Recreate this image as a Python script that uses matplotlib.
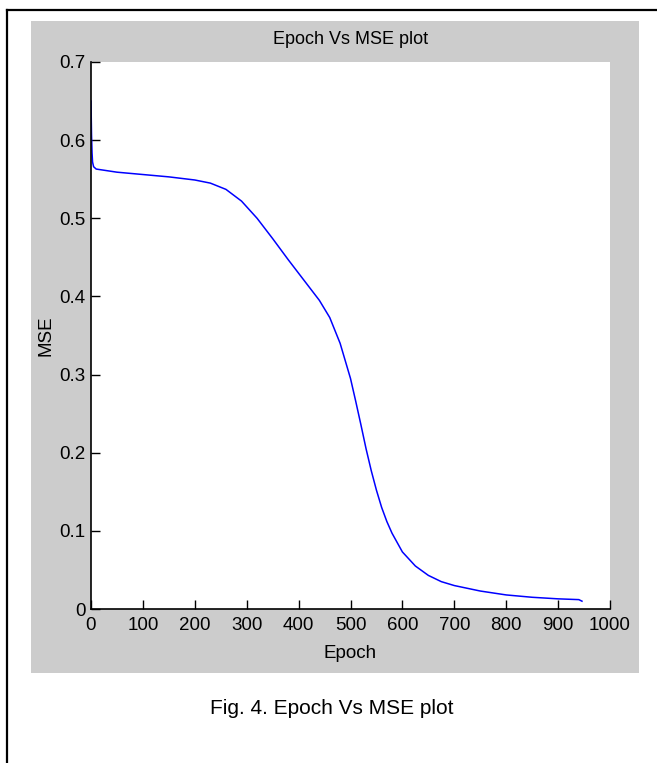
import numpy as np
import matplotlib
matplotlib.use('Agg')
import matplotlib.pyplot as plt
from matplotlib.patches import Rectangle
from matplotlib.lines import Line2D
from matplotlib import font_manager

# training curve
epochs = [0, 1, 2, 3, 5, 10, 50, 100, 150, 200, 230, 260, 290, 320, 350, 380,
          410, 440, 460, 480, 500, 510, 520, 530, 540, 550, 560, 570, 580, 600,
          625, 650, 675, 700, 750, 800, 850, 900, 940, 946]
mse = [0.65, 0.607, 0.584, 0.572, 0.566, 0.563, 0.559, 0.556, 0.553, 0.549,
       0.545, 0.537, 0.522, 0.500, 0.474, 0.447, 0.421, 0.395, 0.373, 0.340,
       0.295, 0.266, 0.236, 0.205, 0.177, 0.152, 0.130, 0.112, 0.097, 0.073,
       0.055, 0.043, 0.035, 0.030, 0.023, 0.018, 0.015, 0.013, 0.012, 0.010]

xticks = [0, 100, 200, 300, 400, 500, 600, 700, 800, 900, 1000]
yticks = [0, 0.1, 0.2, 0.3, 0.4, 0.5, 0.6, 0.7]

names = {f.name for f in font_manager.fontManager.ttflist}
tick_font = 'Liberation Sans Narrow' if 'Liberation Sans Narrow' in names else 'Liberation Sans'

W, H = 657, 763
fig = plt.figure(figsize=(W / 100, H / 100), dpi=100)
fig.patch.set_facecolor('white')

# grey matlab figure panel
fig.add_artist(Rectangle((31 / W, 1 - 673 / H), (639 - 31) / W, (673 - 21) / H,
                         transform=fig.transFigure, facecolor='#cccccc',
                         edgecolor='none', zorder=-1))
# page border (top and left only)
fig.add_artist(Line2D([7 / W, 1], [1 - 10 / H, 1 - 10 / H], transform=fig.transFigure,
                      color='black', lw=1.6))
fig.add_artist(Line2D([7 / W, 7 / W], [0, 1 - 10 / H], transform=fig.transFigure,
                      color='black', lw=1.6))

ax = fig.add_axes([91 / W, 1 - 609 / H, (610 - 91) / W, (609 - 62) / H])
ax.set_facecolor('white')
ax.plot(epochs, mse, color='#0000ff', lw=1.1)

ax.set_xlim(0, 1000)
ax.set_ylim(0, 0.7)
ax.set_xticks(xticks)
ax.set_yticks(yticks)
ax.set_xticklabels([str(t) for t in xticks])
ax.set_yticklabels(['0' if t == 0 else f'{t:.1f}' for t in yticks])
for lab in ax.get_xticklabels() + ax.get_yticklabels():
    lab.set_fontfamily(tick_font)
    lab.set_fontsize(13.5)
ax.tick_params(direction='in', length=6.5, width=1.0, color='black')
ax.tick_params(axis='x', pad=6)
ax.tick_params(axis='y', pad=4)

ax.spines['top'].set_visible(False)
ax.spines['right'].set_visible(False)
for s in ['left', 'bottom']:
    ax.spines[s].set_linewidth(1.2)

ax.set_xlabel('Epoch', fontfamily=tick_font, fontsize=13.5)
ax.xaxis.set_label_coords(0.5, (609 - 653) / 547)
ax.xaxis.label.set_va('center')
ax.set_ylabel('MSE', fontfamily=tick_font, fontsize=13.5)
ax.yaxis.set_label_coords((46 - 91) / 519, 0.5)
ax.yaxis.label.set_va('center')

fig.text(350.5 / W, 1 - 39 / H, 'Epoch Vs MSE plot', ha='center', va='center',
         fontfamily=tick_font, fontsize=13)

fig.text(332 / W, 1 - 708 / H, 'Fig. 4. Epoch Vs MSE plot', ha='center', va='center',
         fontfamily='Liberation Sans', fontsize=15)

plt.savefig('out.png', dpi=100)
